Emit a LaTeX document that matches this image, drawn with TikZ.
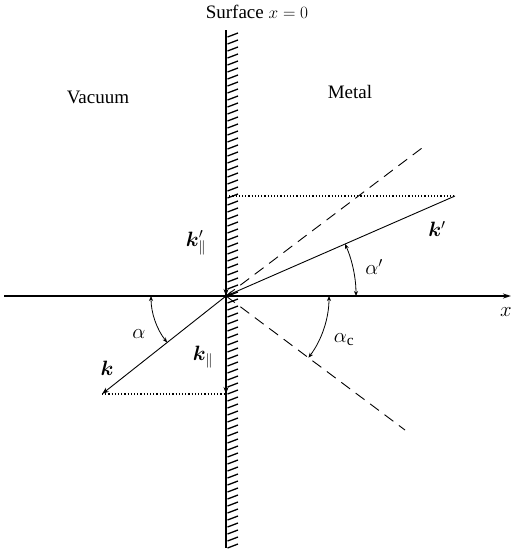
\documentclass[tikz,border=0pt]{standalone}
\usepackage{fontspec}
\setmainfont{Liberation Serif}
\usepackage{bm}
\usetikzlibrary{arrows.meta,calc}
\begin{document}
\begin{tikzpicture}[x=1pt,y=-1pt,
  line width=0.9pt,
  lbl/.style={font=\fontsize{19}{22}\selectfont, inner sep=0pt},
  mlbl/.style={font=\fontsize{22}{25}\selectfont, inner sep=0pt},
  vec/.style={-{Stealth[length=7pt,width=5pt]}},
  ang/.style={{Stealth[length=5pt,width=4pt]}-{Stealth[length=5pt,width=4pt]}, line width=0.8pt},
  proj/.style={dotted, line width=1.2pt},
  crit/.style={dash pattern=on 11pt off 7pt, line width=0.9pt},
  hatch/.style={line width=1.3pt}
]
\useasboundingbox (0,0) rectangle (512,554);
% key points
\coordinate (O) at (226,296);
\coordinate (St) at (226,30);
\coordinate (Sb) at (226,548);
\coordinate (Al) at (4,296);
\coordinate (Ar) at (511,296);
\coordinate (K) at (102,394);
\coordinate (Kp) at (455,196);
\coordinate (Sp) at (226,196);
\coordinate (Sk) at (226,394);
\coordinate (Du) at (422,148);
\coordinate (Dd) at (405,430);
% surface with hatching
\draw[line width=1.2pt] (St) -- (Sb);
\foreach \yy in {35,42,...,546} \draw[hatch] (227.5,\yy+2) -- (238,\yy-2);
% x axis
\draw[line width=1.5pt,-{Stealth[length=8pt,width=5pt]}] (Al) -- (Ar);
% critical-angle lines
\draw[crit] (O) -- (Du);
\draw[crit] (O) -- (Dd);
% projections
\draw[proj] (Sp) -- (Kp);
\draw[proj] (K) -- (Sk);
% wave vectors
\draw[vec] (O) -- (K);
\draw[vec] (Kp) -- (O);
\draw[vec] (Sp) -- (O);
\draw[vec] (O) -- (Sk);
% angles
\draw[ang] ($(O)+(180:75)$) arc[start angle=180, end angle=141.7, radius=75];
\draw[ang] ($(O)+(0:130)$) arc[start angle=0, end angle=-23.6, radius=130];
\draw[ang] ($(O)+(0:103)$) arc[start angle=0, end angle=36.8, radius=103];
% labels
\node[lbl] (surf) at (257,12) {Surface $x=0$};
\node[lbl] (vac) at (98,97) {Vacuum};
\node[lbl] (met) at (350,92) {Metal};
\node[mlbl] (lkp) at (196,243) {$\bm{k}'_{\|}$};
\node[mlbl] (lk) at (203,357) {$\bm{k}_{\|}$};
\node[mlbl] (lkk) at (107,368) {$\bm{k}$};
\node[mlbl] (lkpp) at (437,229) {$\bm{k}'$};
\node[mlbl] (lap) at (374,267) {$\alpha'$};
\node[mlbl] (la) at (139,334) {$\alpha$};
\node[mlbl] (lac) at (344,340) {$\alpha_{\mathrm{c}}$};
\node[mlbl] (lx) at (506,312) {$x$};
\end{tikzpicture}
\end{document}
